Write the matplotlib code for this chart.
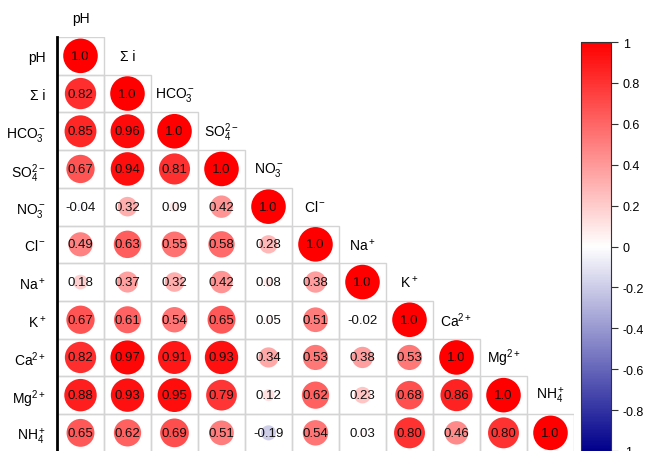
import numpy as np
import matplotlib
matplotlib.use("Agg")
import matplotlib.pyplot as plt
from matplotlib.colors import LinearSegmentedColormap, Normalize
from matplotlib.patches import Rectangle
from matplotlib.cm import ScalarMappable

plt.rcParams["font.family"] = ["Liberation Sans", "DejaVu Sans"]
plt.rcParams["mathtext.fontset"] = "custom"
plt.rcParams["mathtext.rm"] = "Liberation Sans"
plt.rcParams["mathtext.it"] = "Liberation Sans:italic"
plt.rcParams["mathtext.default"] = "regular"

# variables (rows top to bottom, columns left to right)
labels = ["pH", "Σ i", r"HCO$_3^-$", r"SO$_4^{2-}$", r"NO$_3^-$", r"Cl$^-$",
          r"Na$^+$", r"K$^+$", r"Ca$^{2+}$", r"Mg$^{2+}$", r"NH$_4^+$"]

# lower triangle of the correlation matrix, row by row
r_pH = [1.0]
r_sum = [0.82, 1.0]
r_hco3 = [0.85, 0.96, 1.0]
r_so4 = [0.67, 0.94, 0.81, 1.0]
r_no3 = [-0.04, 0.32, 0.09, 0.42, 1.0]
r_cl = [0.49, 0.63, 0.55, 0.58, 0.28, 1.0]
r_na = [0.18, 0.37, 0.32, 0.42, 0.08, 0.38, 1.0]
r_k = [0.67, 0.61, 0.54, 0.65, 0.05, 0.51, -0.02, 1.0]
r_ca = [0.82, 0.97, 0.91, 0.93, 0.34, 0.53, 0.38, 0.53, 1.0]
r_mg = [0.88, 0.93, 0.95, 0.79, 0.12, 0.62, 0.23, 0.68, 0.86, 1.0]
r_nh4 = [0.65, 0.62, 0.69, 0.51, -0.19, 0.54, 0.03, 0.80, 0.46, 0.80, 1.0]
rows = [r_pH, r_sum, r_hco3, r_so4, r_no3, r_cl, r_na, r_k, r_ca, r_mg, r_nh4]

cbar_ticks = [1, 0.8, 0.6, 0.4, 0.2, 0, -0.2, -0.4, -0.6, -0.8, -1]
cbar_ticklabels = ["1", "0.8", "0.6", "0.4", "0.2", "0", "-0.2", "-0.4", "-0.6", "-0.8", "-1"]

cmap = LinearSegmentedColormap.from_list("corr", ["#00008C", "#FFFFFF", "#FF0000"])
norm = Normalize(-1, 1)
n = len(labels)

W, H = 646, 452
fig = plt.figure(figsize=(W / 100, H / 100), dpi=100)
ax = fig.add_axes([57 / W, (H - 38 - 11 * 37.7) / H, 517 / W, 11 * 37.7 / H])
ax.set_xlim(-0.5, n - 0.5)
ax.set_ylim(n - 0.5, -0.5)

xs, ys, vals = [], [], []
for i, row in enumerate(rows):
    for j, v in enumerate(row):
        xs.append(j)
        ys.append(i)
        vals.append(v)
        ax.add_patch(Rectangle((j - 0.5, i - 0.5), 1, 1, fill=False,
                               edgecolor="#D4D4D4", lw=1, zorder=1))
        txt = "1.0" if i == j else f"{v:.2f}"
        ax.text(j, i, txt, ha="center", va="center", fontsize=9.5,
                color="#111111", zorder=3)
vals = np.array(vals)
ax.scatter(xs, ys, s=620 * np.abs(vals), c=vals, cmap=cmap, norm=norm,
           edgecolors="none", zorder=2)

# column headers sit just to the right of each diagonal cell
for j, lab in enumerate(labels):
    ax.text(j, j - 1, lab, ha="center", va="center", fontsize=10, clip_on=False)

ax.set_yticks(range(n))
ax.set_yticklabels(labels, fontsize=10)
ax.tick_params(axis="y", length=0, pad=8)
ax.set_xticks([])
for side in ["top", "right", "bottom"]:
    ax.spines[side].set_visible(False)
ax.spines["left"].set_linewidth(2)
ax.spines["left"].set_color("black")

cax = fig.add_axes([581 / W, 0, 30 / W, (H - 43) / H])
cb = fig.colorbar(ScalarMappable(norm=norm, cmap=cmap), cax=cax)
cb.set_ticks(cbar_ticks)
cb.set_ticklabels(cbar_ticklabels)
cb.ax.tick_params(labelsize=9, length=5, width=0.8, color="#333333")
cb.outline.set_linewidth(0.8)
cb.outline.set_edgecolor("#333333")

fig.savefig("out.png", dpi=100)
